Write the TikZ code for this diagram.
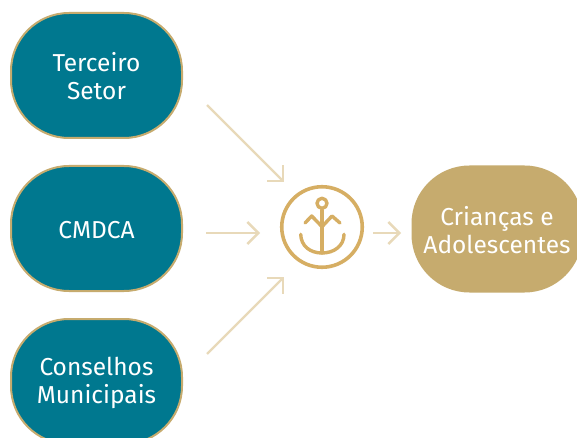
\documentclass[tikz,border=0pt]{standalone}
\usepackage{fontspec}
\setmainfont{Fira Sans}
\usetikzlibrary{arrows.meta}
\definecolor{teal1}{HTML}{00788F}
\definecolor{gold1}{HTML}{C6AB6E}
\definecolor{gold2}{HTML}{D6AE63}
\definecolor{pale1}{HTML}{E8D9B9}
\newcommand{\tp}{\rule{0pt}{21pt}}
\tikzset{
  x=1pt,y=-1pt,
  blob/.style={rectangle,rounded corners=58pt,minimum width=171pt,minimum height=125pt,inner sep=0pt,
    align=center,text=white,font=\fontsize{24.5}{28}\selectfont},
  tealblob/.style={blob,fill=teal1,draw=gold1,line width=2pt},
  goldblob/.style={blob,fill=gold1,minimum height=127pt},
  flow/.style={draw=pale1,line width=2.4pt,-{Straight Barb[length=11pt,width=22pt,line width=2.4pt]}},
  anc/.style={draw=gold2,line width=3.4pt,line cap=round,line join=round},
}
\begin{document}
\begin{tikzpicture}
\useasboundingbox (0,0) rectangle (577,438);
\clip (0,0) rectangle (577,438);
\fill[white] (0,0) rectangle (577,438);
\node[tealblob] (terceiro) at (96.5,75.5) {\tp Terceiro\\Setor};
\node[tealblob] (cmdca) at (96.5,228.5) {\tp CMDCA};
\node[tealblob] (conselhos) at (96.5,381.5) {\tp Conselhos\\Municipais};
\node[goldblob] (criancas) at (497,229) {\tp Crianças e\\Adolescentes};
\node[circle,draw=gold2,line width=3.6pt,minimum size=80.5pt,inner sep=0pt] (ancora) at (322,227) {};
\node[circle,anc,minimum size=10pt,inner sep=0pt] (ring) at (322,203.3) {};
\coordinate (s1) at (207,105); \coordinate (e1) at (284,182);
\coordinate (s2) at (206,233); \coordinate (e2) at (260,233);
\coordinate (s3) at (207,354); \coordinate (e3) at (284,277);
\coordinate (s4) at (373,233); \coordinate (e4) at (401,233);
\draw[flow] (s1) -- (e1);
\draw[flow] (s2) -- (e2);
\draw[flow] (s3) -- (e3);
\draw[flow] (s4) -- (e4);
\draw[anc] (ring.south) -- (322,253);
\draw[anc] (305,223) -- (311.7,216) -- (322,226.7) -- (332,216) -- (340,223);
\draw[anc] (300.7,234.3) .. controls (301,246) and (310,253) .. (322,253) .. controls (334,253) and (344,246) .. (344,234.3);
\end{tikzpicture}
\end{document}
